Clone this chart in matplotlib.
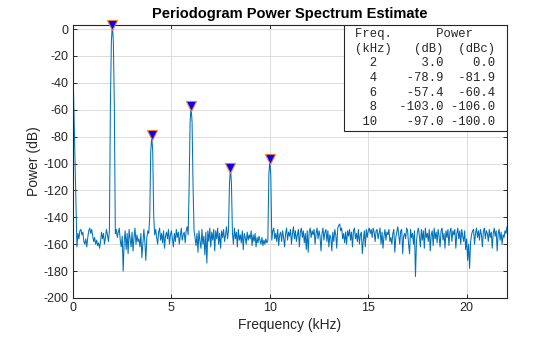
import numpy as np
import matplotlib
matplotlib.use('Agg')
import matplotlib.pyplot as plt
from matplotlib.patches import Rectangle

plt.rcParams['font.family'] = ['Liberation Sans', 'DejaVu Sans']
plt.rcParams['axes.unicode_minus'] = False

# power spectrum samples, one every 0.05 kHz
power_db = [
    -30, -62, -96, -130, -162, -152, -156, -150, -149, -153, -151, -158, -160, -156, -162, -155, -150, -148, -152, -149,
    -154, -158, -155, -160, -157, -161, -159, -163, -158, -151, -156, -152, -160, -155, -149, -153, -158, -150, -57, -9,
    3.0, -9, -57, -152, -149, -155, -151, -148, -157, -162, -154, -180, -158, -150, -164, -152, -167, -149, -156, -162,
    -151, -165, -155, -148, -160, -153, -158, -156, -162, -152, -170, -160, -149, -158, -172, -155, -150, -152, -139, -91,
    -78.9, -91, -139, -153, -149, -155, -160, -151, -148, -157, -152, -159, -150, -163, -154, -151, -156, -149, -160, -153,
    -150, -156, -162, -152, -158, -149, -155, -151, -160, -154, -148, -157, -153, -151, -159, -150, -147, -153, -117, -69,
    -57.4, -69.4, -117.4, -150, -155, -161, -152, -166, -150, -158, -163, -149, -160, -154, -168, -151, -174, -150, -158, -148,
    -162, -151, -157, -149, -165, -150, -156, -148, -160, -152, -163, -150, -155, -149, -158, -153, -147, -156, -150, -115,
    -103, -115, -152, -160, -148, -156, -151, -162, -149, -157, -153, -159, -150, -164, -152, -155, -160, -151, -157, -153,
    -156, -150, -161, -153, -158, -152, -162, -155, -159, -154, -157, -160, -155, -161, -157, -160, -156, -159, -157, -109,
    -97, -109, -157, -150, -148, -156, -152, -158, -149, -161, -153, -151, -158, -150, -155, -162, -152, -148, -157, -151,
    -154, -149, -160, -152, -147, -156, -150, -158, -153, -149, -162, -151, -148, -155, -150, -159, -152, -164, -150, -166,
    -151, -148, -155, -150, -153, -149, -160, -152, -148, -156, -150, -154, -165, -152, -148, -157, -151, -149, -158, -150,
    -162, -153, -155, -165, -151, -158, -149, -153, -163, -148, -146, -145, -150, -148, -156, -152, -159, -151, -160, -150,
    -154, -149, -157, -151, -162, -150, -148, -156, -152, -158, -149, -160, -153, -151, -167, -157, -150, -162, -149, -155,
    -150, -148, -152, -149, -155, -148, -151, -158, -150, -149, -156, -152, -148, -160, -151, -163, -154, -149, -157, -151,
    -153, -149, -158, -155, -160, -152, -149, -166, -155, -151, -147, -153, -160, -150, -149, -167, -154, -152, -156, -148,
    -150, -160, -167, -149, -155, -152, -160, -150, -184, -158, -151, -148, -154, -162, -149, -157, -150, -163, -148, -155,
    -152, -158, -149, -165, -153, -150, -161, -148, -156, -151, -159, -149, -154, -162, -150, -148, -157, -152, -163, -150,
    -155, -149, -161, -151, -148, -158, -150, -153, -149, -163, -152, -148, -156, -150, -160, -149, -154, -158, -150, -164,
    -156, -172, -160, -178, -158, -153, -150, -149, -160, -152, -148, -155, -150, -157, -149, -153, -162, -150, -148, -156,
    -150, -152, -158, -149, -155, -151, -163, -152, -148, -154, -150, -165, -152, -149, -157, -151, -160, -153, -155, -150,
    -152, -147,
]
freq_khz = np.arange(len(power_db)) * 0.05

# harmonics
peak_freq = [2, 4, 6, 8, 10]
peak_db = [3.0, -78.9, -57.4, -103.0, -97.0]
peak_dbc = [p - peak_db[0] for p in peak_db]

fig = plt.figure(figsize=(5.6, 3.37), dpi=100)
ax = fig.add_axes([73 / 560, 39 / 337, 434 / 560, 273 / 337])

ax.plot(freq_khz, power_db, color='#0072BD', lw=0.75)
ax.plot(peak_freq, peak_db, linestyle='none', marker='v', markersize=6.5,
        markerfacecolor='blue', markeredgecolor='#F07A3C', markeredgewidth=0.8,
        clip_on=False, zorder=5)

ax.set_xlim(0, 22.05)
ax.set_ylim(-200, 3)
ax.set_xticks([0, 5, 10, 15, 20])
ax.set_yticks(np.arange(-200, 1, 20))
ax.grid(True, color='#dcdcdc', lw=0.7)
ax.set_axisbelow(True)
ax.tick_params(direction='in', length=3, width=0.7, top=True, right=True,
               labelsize=9, colors='#262626', pad=3)
for s in ax.spines.values():
    s.set_linewidth(0.8)
    s.set_color('#262626')

ax.set_xlabel('Frequency (kHz)', fontsize=10, color='#262626', labelpad=3)
ax.set_ylabel('Power (dB)', fontsize=10, color='#262626', labelpad=2)
ax.set_title('Periodogram Power Spectrum Estimate', fontsize=10.5, fontweight='bold', pad=5)

# table with harmonic powers
lines = ['Freq.      Power', '(kHz)   (dB)  (dBc)']
for f, p, c in zip(peak_freq, peak_db, peak_dbc):
    lines.append(f'{f:3d}{p:9.1f}{c:7.1f}')

box_x = (344 - 73) / 434
box_y = (298 - 131) / 273
ax.add_patch(Rectangle((box_x, box_y), 1 - box_x, 1 - box_y, transform=ax.transAxes,
                       facecolor='white', edgecolor='#262626', lw=0.8, zorder=6))
ax.text(box_x + 11 / 434, 1 - 3 / 273, '\n'.join(lines), transform=ax.transAxes,
        family='Liberation Mono', fontsize=8.8, va='top', ha='left',
        linespacing=1.3, color='#262626', zorder=7)

fig.savefig('out.png', dpi=100)
